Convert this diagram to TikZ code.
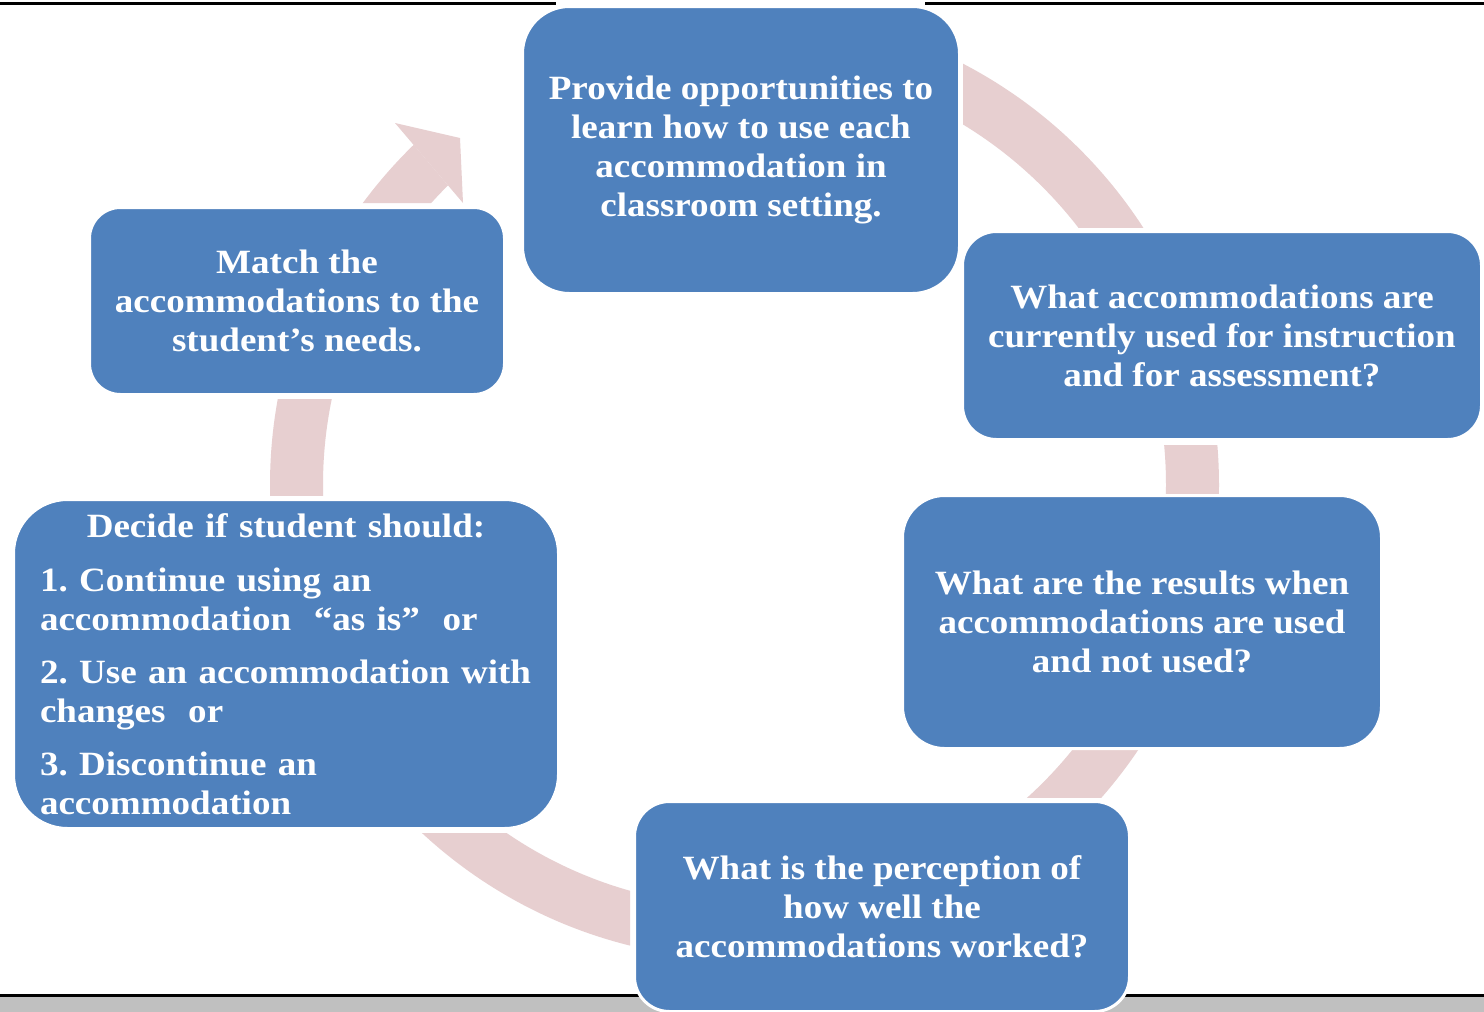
\documentclass[tikz,border=0pt]{standalone}
\usepackage{fontspec}
\newfontfamily\diagfont[FakeStretch=1.09]{Liberation Serif}
\definecolor{boxblue}{RGB}{79,129,189}
\definecolor{ringpink}{RGB}{231,207,208}
\definecolor{bandgray}{RGB}{192,192,192}
\begin{document}
\begin{tikzpicture}[x=1pt,y=-1pt,
  box/.style={fill=boxblue, draw=white, line width=3pt, inner sep=0pt, text=white,
    font=\diagfont\bfseries\fontsize{34}{39}\selectfont\frenchspacing, align=center},
  ring/.style={draw=ringpink, line width=53pt}]
\useasboundingbox (0,0) rectangle (1484,1012);
\fill[white] (0,0) rectangle (1484,1012);
% page rules
\fill[bandgray] (0,996) rectangle (1484,1012);
\draw[line width=3pt] (0,3.5) -- (556,3.5);
\draw[line width=3pt] (925,3.5) -- (1484,3.5);
\draw[line width=2.5pt] (0,995.5) -- (1484,995.5);
% cycle ring
\coordinate (ctr) at (744.5,485);
\begin{scope}\clip (963,0) rectangle (1484,227); \draw[ring] (ctr) circle[radius=448pt]; \end{scope}
\begin{scope}\clip (1100,445) rectangle (1300,497); \draw[ring] (ctr) circle[radius=448pt]; \end{scope}
\begin{scope}\clip (950,748) rectangle (1300,797); \draw[ring] (ctr) circle[radius=448pt]; \end{scope}
\begin{scope}\clip (300,833) rectangle (630,1000); \draw[ring] (ctr) circle[radius=448pt]; \end{scope}
\begin{scope}\clip (200,399) rectangle (400,495); \draw[ring] (ctr) circle[radius=448pt]; \end{scope}
\begin{scope}\clip (300,203) -- (463,203) -- (380,105) -- (300,105) -- cycle; \draw[ring] (ctr) circle[radius=448pt]; \end{scope}
\coordinate (headL) at (395,123);
\coordinate (headT) at (460,138);
\coordinate (headR) at (463,203);
\fill[ringpink] (headL) -- (headT) -- (headR) -- cycle;
% boxes
\node[box, minimum width=437pt, minimum height=287pt, rounded corners=47pt] (prov) at (741,150)
  {Provide opportunities to\\learn how to use each\\accommodation in\\classroom setting.};
\node[box, minimum width=519pt, minimum height=208pt, rounded corners=34pt] (curr) at (1222,335.5)
  {What accommodations are\\currently used for instruction\\and for assessment?};
\node[box, minimum width=479pt, minimum height=253pt, rounded corners=42pt] (res) at (1142,622)
  {What are the results when\\accommodations are used\\and not used?};
\node[box, minimum width=495pt, minimum height=210pt, rounded corners=35pt] (perc) at (882,906.5)
  {What is the perception of\\how well the\\accommodations worked?};
\node[box, minimum width=545pt, minimum height=329pt, rounded corners=54pt, text width=492pt, align=left] (dec) at (286,664)
  {\makebox[492pt]{Decide if student should:}\\[15pt]1. Continue using an\\accommodation\ \ “as is”\ \ or\\[14pt]2. Use an accommodation with\\changes\ \ or\\[14pt]3. Discontinue an\\accommodation};
\node[box, minimum width=415pt, minimum height=187pt, rounded corners=31pt] (match) at (297,301)
  {Match the\\accommodations to the\\student’s needs.};
\end{tikzpicture}
\end{document}
